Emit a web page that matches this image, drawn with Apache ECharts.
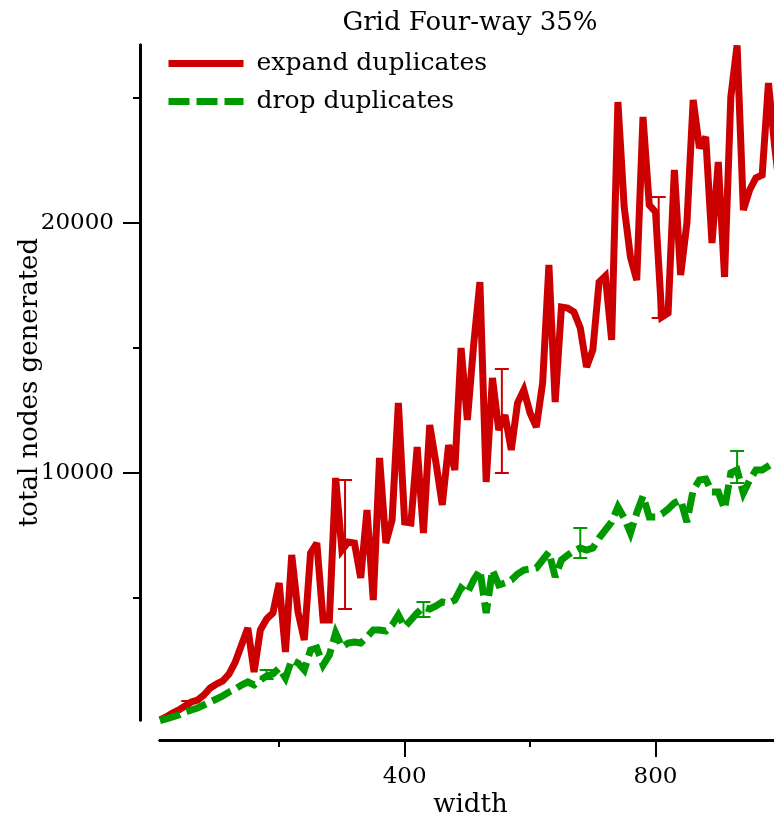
<!DOCTYPE html>
<html><head><meta charset="utf-8">
<script src="https://cdn.jsdelivr.net/npm/echarts@6/dist/echarts.min.js"></script>
<style>html,body{margin:0;padding:0;background:#fff}#c{width:774px;height:817px}</style>
</head><body><div id="c"></div>
<script>
const widths = [10,20,30,40,50,60,70,80,90,100,110,120,130,140,150,160,170,180,190,200,
210,220,230,240,250,260,270,280,290,300,310,320,330,340,350,360,370,380,390,400,
410,420,430,440,450,460,470,480,490,500,510,520,530,540,550,560,570,580,590,600,
610,620,630,640,650,660,670,680,690,700,710,720,730,740,750,760,770,780,790,800,
810,820,830,840,850,860,870,880,890,900,910,920,930,940,950,960,970,980,990,1000];

const expandDuplicates = [120,240,400,520,680,840,920,1120,1400,1560,
1680,1960,2440,3120,3800,2040,3720,4160,4400,5600,
2840,6720,4440,3320,6800,7200,4120,4120,9800,6920,
7240,7200,5800,8520,4920,10600,7200,8120,12800,8040,
8000,11040,7600,11920,10400,8720,11120,10120,15000,12120,
15120,17640,9640,13800,11720,12320,10920,12800,13320,12400,
11840,13600,18320,12840,16640,16600,16440,15800,14240,14920,
17640,17880,15320,24840,20640,18640,17720,24240,20720,20440,
16240,16400,22120,17920,20000,24920,23000,23440,19200,22440,
17840,25040,27100,20520,21320,21800,21920,25600,23040,20920];

const dropDuplicates = [100,160,240,320,440,520,600,720,840,960,
1080,1240,1360,1520,1640,1520,1720,1880,1960,2200,
1800,2520,2400,2120,2920,3000,2320,2720,3600,3040,
3200,3240,3200,3440,3720,3720,3680,3920,4320,3840,
4120,4400,4640,4560,4680,4840,4800,4920,5400,5200,
5720,6120,4400,6120,5520,5600,5720,5960,6120,6160,
6200,6520,6840,5840,6520,6720,6880,7000,6920,7000,
7400,7720,8040,8640,8200,7600,8400,9080,8240,8240,
8360,8560,8800,8920,8040,9320,9720,9760,9240,9240,
8560,10000,10120,9200,9720,10120,10120,10280,10440,10600];

const expandErrX = [55, 305, 555, 805];
const expandErrLo = [600, 4560, 10000, 16200];
const expandErrHi = [880, 9720, 14160, 21040];

const dropErrX = [180, 430, 680, 930];
const dropErrLo = [1760, 4240, 6600, 9600];
const dropErrHi = [2120, 4840, 7800, 10880];

const xMajorTicks = [400, 800];
const xMinorTicks = [200, 600, 1000];
const yMajorTicks = [10000, 20000];
const yMinorTicks = [5000, 15000, 25000];

const titleText = 'Grid Four-way 35%';
const seriesNames = ['expand duplicates', 'drop duplicates'];

const RED = '#cc0000', GREEN = '#009900';
const FONT = 'DejaVu Serif';

const chart = echarts.init(document.getElementById('c'), null, {renderer: 'canvas'});

function pairs(xs, ys) { return xs.map((x, i) => [x, ys[i]]); }
function triples(xs, lo, hi) { return xs.map((x, i) => [x, lo[i], hi[i]]); }

function errRender(color) {
  return function (params, api) {
    const x = api.value(0), lo = api.value(1), hi = api.value(2);
    const a = api.coord([x, lo]), b = api.coord([x, hi]);
    const hw = 7;
    const style = {stroke: color, lineWidth: 2, fill: null};
    return {type: 'group', children: [
      {type: 'line', shape: {x1: a[0], y1: a[1], x2: b[0], y2: b[1]}, style: style},
      {type: 'line', shape: {x1: a[0] - hw, y1: a[1], x2: a[0] + hw, y2: a[1]}, style: style},
      {type: 'line', shape: {x1: b[0] - hw, y1: b[1], x2: b[0] + hw, y2: b[1]}, style: style}
    ]};
  };
}

const plain = v => String(v);
const axisLineStyle = {color: '#000', width: 3};
const xBase = {type: 'value', min: 10, max: 1000, position: 'bottom', offset: 20, splitLine: {show: false},
  axisLine: {show: true, lineStyle: axisLineStyle}};
const yBase = {type: 'value', min: 120, max: 27120, position: 'left', offset: 20, splitLine: {show: false},
  axisLine: {show: true, lineStyle: axisLineStyle}};

chart.setOption({
  animation: false,
  backgroundColor: '#fff',
  grid: {left: 160, top: 45, width: 621, height: 675, containLabel: false, outerBoundsMode: 'none'},
  graphic: [{type: 'text', x: 470, y: 10, style: {text: titleText, fill: '#000', font: '26px "' + FONT + '"', textAlign: 'center', textVerticalAlign: 'top'}}],
  legend: {
    data: seriesNames, orient: 'vertical', left: 160, top: 46, itemWidth: 75, itemHeight: 2, itemGap: 13,
    textStyle: {fontFamily: FONT, fontSize: 25, color: '#000', padding: [0, 0, 0, 8]},
    itemStyle: {opacity: 0},
    lineStyle: {width: 7, cap: 'butt'}
  },
  xAxis: [
    Object.assign({}, xBase, {
      name: 'width', nameLocation: 'middle', nameGap: 52, nameMoveOverlap: false,
      nameTextStyle: {fontFamily: FONT, fontSize: 26, color: '#000'},
      axisTick: {show: true, length: 17, lineStyle: {color: '#000', width: 2}, customValues: xMajorTicks},
      axisLabel: {show: true, margin: 26, fontFamily: FONT, fontSize: 23, color: '#000', customValues: xMajorTicks, formatter: plain}
    }),
    Object.assign({}, xBase, {
      axisTick: {show: true, length: 7, lineStyle: {color: '#000', width: 2}, customValues: xMinorTicks},
      axisLabel: {show: false}
    })
  ],
  yAxis: [
    Object.assign({}, yBase, {
      name: 'total nodes generated', nameLocation: 'middle', nameGap: 97, nameRotate: 90, nameMoveOverlap: false,
      nameTextStyle: {fontFamily: FONT, fontSize: 26, color: '#000'},
      axisTick: {show: true, length: 17, lineStyle: {color: '#000', width: 2}, customValues: yMajorTicks},
      axisLabel: {show: true, margin: 26, fontFamily: FONT, fontSize: 23, color: '#000', customValues: yMajorTicks, formatter: plain}
    }),
    Object.assign({}, yBase, {
      axisTick: {show: true, length: 7, lineStyle: {color: '#000', width: 2}, customValues: yMinorTicks},
      axisLabel: {show: false}
    })
  ],
  series: [
    {name: seriesNames[0], type: 'line', xAxisIndex: 0, yAxisIndex: 0, data: pairs(widths, expandDuplicates),
      symbol: 'none', clip: false, color: RED,
      lineStyle: {color: RED, width: 7, cap: 'butt', join: 'miter', miterLimit: 3}},
    {name: seriesNames[1], type: 'line', xAxisIndex: 0, yAxisIndex: 0, data: pairs(widths, dropDuplicates),
      symbol: 'none', clip: false, color: GREEN,
      lineStyle: {color: GREEN, width: 7, type: [21, 7], cap: 'butt', join: 'miter', miterLimit: 3}},
    {type: 'custom', xAxisIndex: 0, yAxisIndex: 0, data: triples(expandErrX, expandErrLo, expandErrHi),
      encode: {x: 0, y: [1, 2]}, renderItem: errRender(RED), clip: false, z: 3},
    {type: 'custom', xAxisIndex: 0, yAxisIndex: 0, data: triples(dropErrX, dropErrLo, dropErrHi),
      encode: {x: 0, y: [1, 2]}, renderItem: errRender(GREEN), clip: false, z: 3}
  ]
});
</script></body></html>
